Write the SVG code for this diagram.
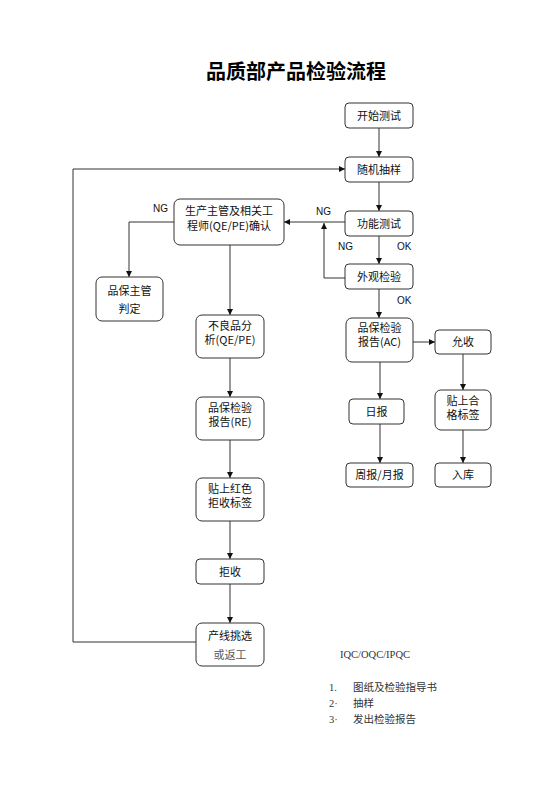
<svg xmlns="http://www.w3.org/2000/svg" width="560" height="792" viewBox="0 0 560 792">
<defs>
<marker id="ah" viewBox="0 0 10 10" refX="10" refY="5" markerWidth="6" markerHeight="6" orient="auto" markerUnits="userSpaceOnUse">
<path d="M0,0 L10,5 L0,10 z" fill="#111"/>
</marker>
<style>
.box{fill:#fff;stroke:#333;stroke-width:1}
.t{font-family:"Noto Sans CJK SC","Liberation Sans",sans-serif;font-size:11px;fill:#111;text-anchor:middle}
.lbl{font-family:"Liberation Sans Narrow","Liberation Sans",sans-serif;font-size:10px;fill:#111}
.c{fill:none;stroke:#333;stroke-width:1}
.ca{fill:none;stroke:#333;stroke-width:1;marker-end:url(#ah)}
.note{font-family:"Liberation Serif","Noto Sans CJK SC",serif;font-size:10.5px;fill:#333}
</style>
</defs>
<rect width="560" height="792" fill="#fff"/>
<text x="296" y="79" style="font-family:'Noto Sans CJK SC','Liberation Sans',sans-serif;font-size:20px;font-weight:bold;fill:#000;text-anchor:middle">品质部产品检验流程</text>

<g id="connectors">
<line class="ca" x1="379" y1="128" x2="379" y2="157"/>
<line class="ca" x1="379" y1="182" x2="379" y2="211"/>
<line class="ca" x1="379" y1="236" x2="379" y2="264"/>
<line class="ca" x1="379" y1="289" x2="379" y2="318"/>
<polyline class="ca" points="345,278 324,278 324,223"/>
<line class="ca" x1="345" y1="222" x2="284" y2="222"/>
<polyline class="ca" points="174,222 129,222 129,277"/>
<line class="ca" x1="230" y1="245" x2="230" y2="315"/>
<line class="ca" x1="230" y1="358" x2="230" y2="397"/>
<line class="ca" x1="230" y1="440" x2="230" y2="478"/>
<line class="ca" x1="230" y1="521" x2="230" y2="559"/>
<line class="ca" x1="230" y1="584" x2="230" y2="623"/>
<polyline class="ca" points="196,642 73,642 73,169 345,169"/>
<line class="ca" x1="413" y1="342" x2="435" y2="342"/>
<line class="ca" x1="380" y1="362" x2="380" y2="399"/>
<line class="ca" x1="380" y1="424" x2="380" y2="463"/>
<line class="ca" x1="463" y1="354" x2="463" y2="390"/>
<line class="ca" x1="463" y1="430" x2="463" y2="463"/>
<text class="lbl" x="153" y="212">NG</text>
<text class="lbl" x="316" y="215">NG</text>
<text class="lbl" x="338" y="250">NG</text>
<text class="lbl" x="397" y="250">OK</text>
<text class="lbl" x="397" y="304">OK</text>
</g>

<g id="n-start"><rect class="box" x="345" y="103" width="68" height="25" rx="4"/><text class="t" x="379" y="119.5">开始测试</text></g>
<g id="n-sample"><rect class="box" x="345" y="157" width="68" height="25" rx="4"/><text class="t" x="379" y="173.5">随机抽样</text></g>
<g id="n-func"><rect class="box" x="345" y="211" width="68" height="25" rx="4"/><text class="t" x="379" y="227.5">功能测试</text></g>
<g id="n-look"><rect class="box" x="345" y="264" width="68" height="25" rx="4"/><text class="t" x="379" y="280.5">外观检验</text></g>
<g id="n-confirm"><rect class="box" x="174" y="199" width="110" height="46" rx="6"/><text class="t" x="229" y="215">生产主管及相关工</text><text class="t" x="229" y="230">程师(QE/PE)确认</text></g>
<g id="n-judge"><rect class="box" x="96" y="277" width="67" height="44" rx="6"/><text class="t" x="129.5" y="295">品保主管</text><text class="t" x="129.5" y="313">判定</text></g>
<g id="n-bad"><rect class="box" x="196" y="315" width="68" height="43" rx="6"/><text class="t" x="230" y="330">不良品分</text><text class="t" x="230" y="344">析(QE/PE)</text></g>
<g id="n-re"><rect class="box" x="196" y="397" width="68" height="43" rx="6"/><text class="t" x="230" y="412">品保检验</text><text class="t" x="230" y="426">报告(RE)</text></g>
<g id="n-red"><rect class="box" x="196" y="478" width="68" height="43" rx="6"/><text class="t" x="230" y="493">贴上红色</text><text class="t" x="230" y="507">拒收标签</text></g>
<g id="n-reject"><rect class="box" x="196" y="559" width="68" height="25" rx="4"/><text class="t" x="230" y="575.5">拒收</text></g>
<g id="n-line"><rect class="box" x="196" y="623" width="68" height="43" rx="6"/><text class="t" x="230" y="640">产线挑选</text><text x="230" y="659" style="font-family:'Noto Sans CJK SC',serif;font-size:11px;fill:#555;text-anchor:middle">或返工</text></g>
<g id="n-ac"><rect class="box" x="346" y="318" width="67" height="44" rx="6"/><text class="t" x="379.5" y="332">品保检验</text><text class="t" x="379.5" y="346">报告(AC)</text></g>
<g id="n-accept"><rect class="box" x="435" y="330" width="56" height="24" rx="4"/><text class="t" x="463" y="346">允收</text></g>
<g id="n-label"><rect class="box" x="435" y="390" width="56" height="40" rx="6"/><text class="t" x="463" y="405">贴上合</text><text class="t" x="463" y="419">格标签</text></g>
<g id="n-store"><rect class="box" x="435" y="463" width="56" height="24" rx="4"/><text class="t" x="463" y="479">入库</text></g>
<g id="n-daily"><rect class="box" x="349" y="399" width="55" height="25" rx="4"/><text class="t" x="376.5" y="415.5">日报</text></g>
<g id="n-weekly"><rect class="box" x="346" y="463" width="67" height="24" rx="4"/><text class="t" x="379.5" y="479">周报/月报</text></g>

<text class="note" x="340" y="658">IQC/OQC/IPQC</text>
<text class="note" x="329" y="691">1.</text><text class="note" x="353" y="691">图纸及检验指导书</text>
<text class="note" x="329" y="707">2·</text><text class="note" x="353" y="707">抽样</text>
<text class="note" x="329" y="723">3·</text><text class="note" x="353" y="723">发出检验报告</text>
</svg>
